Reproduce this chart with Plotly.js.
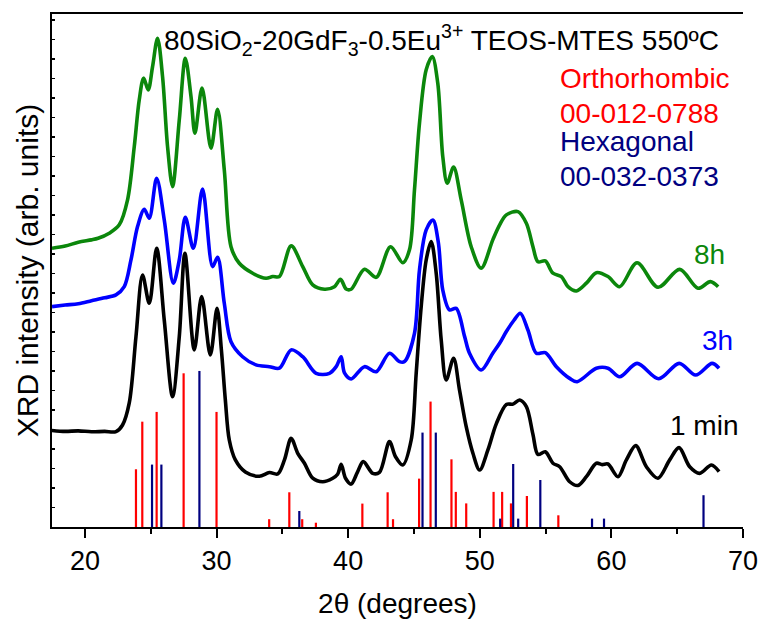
<!DOCTYPE html>
<html>
<head>
<meta charset="utf-8">
<script src="https://cdn.plot.ly/plotly-3.0.1.min.js"></script>
<style>html,body{margin:0;padding:0;background:#fff;}#chart{width:761px;height:624px;}</style>
</head>
<body>
<div id="chart"></div>
<script>
// ---- Data ----
const x1min = [17.5,18.5,19.5,20.5,21.5,22.36,22.86,23.37,23.88,24.38,24.89,25.45,26.03,26.66,27.17,27.6,28.31,28.87,29.53,30.04,30.37,30.67,30.97,31.43,32.19,33.25,34.02,34.65,35.16,35.67,36.17,36.68,37.31,38.07,38.83,39.2,39.47,39.8,40.23,40.7,41.15,41.87,42.38,43.14,43.6,44.15,44.79,45.17,45.55,45.93,46.31,46.69,47.07,47.45,48.01,48.46,48.97,49.48,49.99,50.62,51.26,52.02,52.52,53.03,53.54,54.04,54.42,54.98,55.56,56.07,56.83,57.46,58.1,58.86,59.3,59.74,60.5,61.14,61.85,62.66,63.54,64.43,65.14,65.95,66.71,67.6,68.18];
const y1min = [4.95,4.9,4.93,4.88,4.9,4.89,5.23,6.36,9.76,12.92,11.47,14.29,10.6,6.68,9.76,14.03,9.08,11.81,8.82,11.21,9.08,6.51,4.46,3.44,2.82,2.6,2.79,2.72,3.44,4.55,3.78,3.27,2.5,2.32,2.5,2.7,3.21,2.5,2.2,2.8,3.35,2.75,2.8,4.38,3.6,3.18,4.46,7.88,11.3,13.69,14.63,13.01,9.59,7.54,8.65,7.03,5.14,3.78,2.92,3.95,5.3,6.28,6.3,6.51,6.17,4.75,3.72,3.86,3.27,3.09,2.32,2.13,2.58,3.27,3.2,3.23,2.58,3.44,4.17,3.09,2.5,3.44,4.07,3.09,2.75,3.18,2.84];

const x3h = [17.5,18.5,19.5,20.5,21.5,22.36,22.99,23.5,24.0,24.51,24.89,25.45,26.03,26.72,27.17,27.63,28.24,28.94,29.7,30.08,30.59,31.1,31.98,33.0,34.02,34.78,35.67,36.55,37.57,38.58,39.09,39.47,39.72,40.23,41.24,42.13,43.14,43.9,44.28,45.04,45.42,45.93,46.44,46.85,47.19,47.7,48.21,48.85,49.22,50.11,50.99,51.51,52.02,52.6,53.08,53.66,54.3,54.98,55.82,56.83,57.4,58.86,59.74,60.63,61.95,63.6,65.15,66.4,67.65,68.18];
const y3h = [11.3,11.38,11.45,11.6,11.75,11.9,12.32,13.69,15.4,16.29,15.83,17.88,15.74,12.5,13.69,15.88,14.29,17.32,13.35,13.83,11.47,9.5,8.73,8.31,8.22,8.14,9.08,8.73,7.88,7.88,8.22,8.73,7.9,7.59,8.22,7.96,8.91,8.48,8.48,9.93,13.18,15.23,15.74,14.6,12.15,11.13,11.21,9.76,8.91,8.05,8.91,9.42,10.02,10.6,10.96,10.1,8.91,8.94,8.22,7.62,7.45,8.14,8.14,7.7,8.39,7.6,8.39,7.79,8.39,8.14];

const x8h = [17.5,18.5,19.5,20.5,21.0,21.85,22.61,23.24,23.75,24.13,24.46,24.81,25.14,25.52,25.9,26.28,26.66,27.17,27.63,28.06,28.36,28.9,29.58,30.08,30.59,31.1,31.73,32.75,33.76,34.27,34.78,35.67,36.55,37.31,38.2,38.96,39.42,39.85,40.23,41.24,42.13,43.22,44.15,44.66,45.04,45.42,45.93,46.39,46.81,47.19,47.53,48.01,48.59,49.35,50.11,50.99,51.51,52.02,52.9,53.54,54.04,54.42,54.98,55.56,56.2,56.7,57.34,58.1,58.86,59.74,60.63,61.95,63.54,65.19,66.58,67.52,68.11];
const y8h = [14.29,14.4,14.6,14.72,14.8,15.06,15.49,16.77,19.5,21.9,23.01,22.41,23.6,25.06,23.09,19.5,17.45,20.87,24.03,22.07,20.19,22.5,19.42,21.42,18.31,14.37,13.52,13.01,12.75,12.84,12.84,14.41,13.35,12.41,12.19,12.32,12.7,12.2,12.19,13.21,12.8,14.37,13.55,14.21,17.28,20.7,23.44,24.12,22.75,18.99,17.63,18.45,16.77,14.37,13.27,14.72,15.49,16.0,16.17,15.57,14.37,13.6,13.64,13.01,12.84,12.32,12.1,12.5,13.04,12.84,12.32,13.55,12.29,13.21,12.24,12.58,12.32];

// Reference patterns (stick positions, relative intensities)
const orthoPos = [23.88,24.36,25.45,27.50,30.0,34.0,35.53,36.51,37.55,41.08,43.0,43.41,45.39,46.26,47.85,48.18,48.97,51.05,51.7,52.37,53.58,55.97];
const orthoInt = [2.96,5.4,5.9,7.88,5.9,0.4,1.78,0.4,0.22,1.2,1.78,0.4,2.48,6.43,3.47,1.8,1.21,1.8,1.8,1.21,1.59,0.6];
const hexPos = [25.1,25.81,28.7,36.29,45.65,46.66,51.55,52.54,52.92,54.6,58.53,59.44,67.0];
const hexInt = [3.2,3.2,8.0,0.82,4.84,4.84,0.43,3.23,0.43,2.41,0.43,0.43,1.63];

const xTicks = [20,30,40,50,60,70];
const labels = {
  title: "80SiO<sub>2</sub>-20GdF<sub>3</sub>-0.5Eu<sup>3+</sup> TEOS-MTES 550ºC",
  ortho: ["Orthorhombic","00-012-0788"],
  hex: ["Hexagonal","00-032-0373"],
  series: ["1 min","3h","8h"]
};

// ---- Build traces ----
function sticks(pos, inten){
  const xs=[], ys=[];
  pos.forEach((p,i)=>{ xs.push(p,p,null); ys.push(0,inten[i],null); });
  return {xs, ys};
}
const FONT = "Liberation Sans, Arial, Helvetica, sans-serif";
const RED = "#ff0000", NAVY = "#000080", GREEN = "#0b870b", BLUE = "#0000ff";

const so = sticks(orthoPos, orthoInt);
const sh = sticks(hexPos, hexInt);

const traces = [
  {x: so.xs, y: so.ys, type:'scatter', mode:'lines', line:{color:RED, width:2.2}, name:'Orthorhombic 00-012-0788', hoverinfo:'skip'},
  {x: sh.xs, y: sh.ys, type:'scatter', mode:'lines', line:{color:NAVY, width:2.2}, name:'Hexagonal 00-032-0373', hoverinfo:'skip'},
  {x: x1min, y: y1min, type:'scatter', mode:'lines', line:{color:'#000000', width:3.6, shape:'spline', smoothing:0.9}, name:'1 min'},
  {x: x3h, y: y3h, type:'scatter', mode:'lines', line:{color:BLUE, width:3.6, shape:'spline', smoothing:0.9}, name:'3h'},
  {x: x8h, y: y8h, type:'scatter', mode:'lines', line:{color:GREEN, width:3.6, shape:'spline', smoothing:0.9}, name:'8h'}
];

const ann = (text, x, y, color, opts) => Object.assign({
  text, x, y, xref:'x', yref:'y', xanchor:'left', yanchor:'middle', showarrow:false,
  font:{family:FONT, size:28, color}
}, opts||{});

const layout = {
  width: 761, height: 624,
  margin: {l:52, r:18, t:14, b:97, pad:0},
  paper_bgcolor:'#ffffff', plot_bgcolor:'#ffffff',
  showlegend:false,
  font:{family:FONT, color:'#000'},
  xaxis:{
    range:[17.5,70], tickmode:'array', tickvals:xTicks, ticktext:xTicks.map(String),
    ticks:'outside', ticklen:9, tickwidth:2, tickcolor:'#000',
    minor:{tickmode:'array', tickvals:[25,35,45,55,65], ticks:'outside', ticklen:5, tickwidth:2, tickcolor:'#000', showgrid:false},
    showline:true, linewidth:2, linecolor:'#000', mirror:true,
    showgrid:false, zeroline:false,
    tickfont:{family:FONT, size:27, color:'#000'},
    title:{text:'2θ (degrees)', font:{family:FONT, size:28, color:'#000'}, standoff:18},
    automargin:false
  },
  yaxis:{
    range:[0,26.3], tick0:0, dtick:1,
    ticks:'inside', ticklen:3, tickwidth:1.5, tickcolor:'#000',
    showticklabels:false, showline:true, linewidth:2, linecolor:'#000',
    showgrid:false, zeroline:false,
    title:{text:'XRD intensity (arb. units)', font:{family:FONT, size:30, color:'#000'}, standoff:3},
    automargin:false
  },
  yaxis2:{
    overlaying:'y', side:'right', anchor:'x', range:[0,26.3], tick0:0, dtick:1,
    ticks:'outside', ticklen:3, tickwidth:1.5, tickcolor:'#000',
    showticklabels:false, showline:true, linewidth:2, linecolor:'#000',
    showgrid:false, zeroline:false
  },
  annotations:[
    ann(labels.title, 25.88, 24.97, '#000'),
    ann(labels.ortho[0], 55.92, 22.97, RED),
    ann(labels.ortho[1], 55.92, 21.18, RED),
    ann(labels.hex[0], 55.92, 19.74, NAVY),
    ann(labels.hex[1], 55.92, 17.95, NAVY),
    ann(labels.series[2], 66.11, 13.97, GREEN),
    ann(labels.series[1], 66.72, 9.54, BLUE),
    ann(labels.series[0], 64.28, 5.18, '#000')
  ]
};

Plotly.newPlot('chart', traces, layout, {staticPlot:true, displayModeBar:false});
</script>
</body>
</html>
